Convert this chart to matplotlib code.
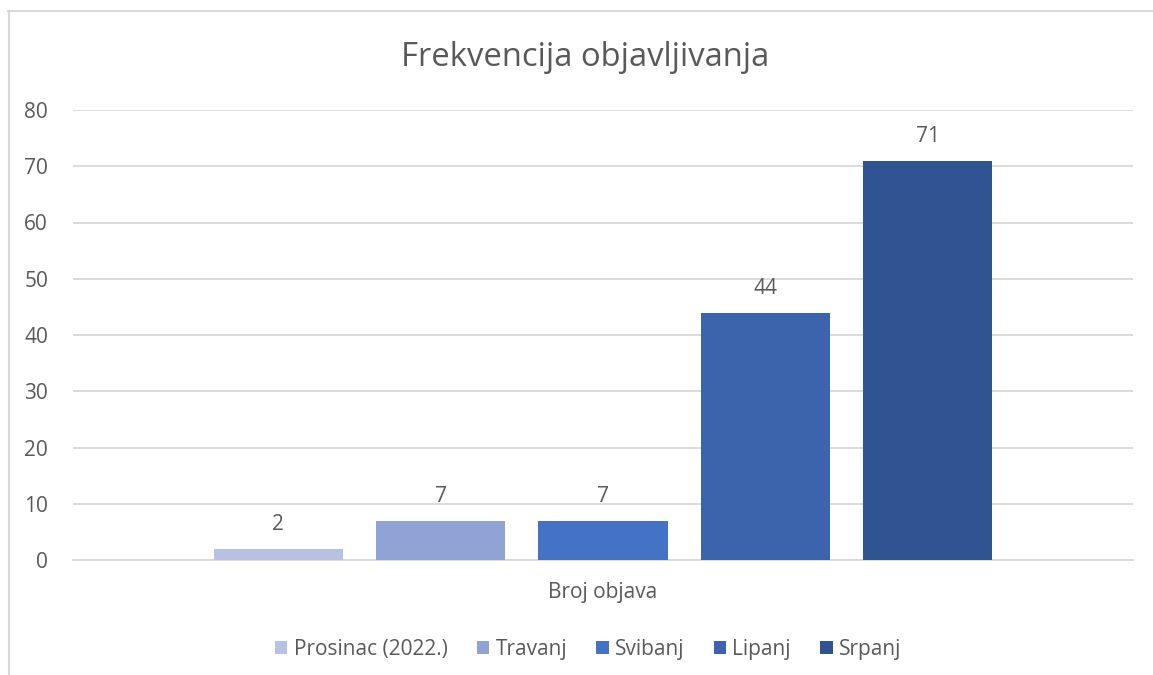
"""
Frekvencija objavljivanja - bar chart recreation.
"""
import matplotlib
matplotlib.use('Agg')
import matplotlib.pyplot as plt
from matplotlib.lines import Line2D

# data
months = ['Prosinac (2022.)', 'Travanj', 'Svibanj', 'Lipanj', 'Srpanj']
counts = [2, 7, 7, 44, 71]
category = 'Broj objava'
yticks = [0, 10, 20, 30, 40, 50, 60, 70, 80]

colors = ['#B7C2E3', '#8FA3D4', '#4472C4', '#3C64AD', '#305492']
txt_color = '#595959'
grid_color = '#D9D9D9'

plt.rcParams['font.family'] = ['Open Sans', 'DejaVu Sans']

W, H = 1153, 675
fig = plt.figure(figsize=(W / 100, H / 100), dpi=100)

# chart area border (cut off at right and bottom)
fig.add_artist(Line2D([8 / W, 1.0], [1 - 11 / H, 1 - 11 / H],
                      color=grid_color, lw=1.5, transform=fig.transFigure))
fig.add_artist(Line2D([8.5 / W, 8.5 / W], [0, 1 - 11 / H],
                      color=grid_color, lw=1.5, transform=fig.transFigure))

ax = fig.add_axes([73 / W, (H - 560) / H, 1060 / W, 450 / H])

step = 0.1533
width = 0.1217
n = len(months)
bars = []
for i, (m, c) in enumerate(zip(months, counts)):
    x = (i - (n - 1) / 2) * step
    b = ax.bar(x, c, width=width, color=colors[i], label=m, zorder=3)
    bars.append(b)
    ax.annotate(str(c), (x, c), xytext=(0, 10), textcoords='offset points',
                ha='center', va='bottom', fontsize=15, color=txt_color)

ax.set_xlim(-0.5, 0.5)
ax.set_ylim(0, 80)
ax.set_yticks(yticks)
ax.set_xticks([0])
ax.set_xticklabels([category])
ax.tick_params(axis='y', length=0, pad=18, labelsize=15, labelcolor=txt_color)
ax.tick_params(axis='x', length=0, pad=16, labelsize=15, labelcolor=txt_color)
ax.grid(axis='y', color=grid_color, lw=1.3, zorder=0)
for s in ['top', 'right', 'left']:
    ax.spines[s].set_visible(False)
ax.spines['bottom'].set_color(grid_color)
ax.spines['bottom'].set_linewidth(1.3)

fig.text(585 / W, 1 - 57 / H, 'Frekvencija objavljivanja', ha='center',
         va='center', fontsize=23.6, color=txt_color)

fig.legend(handles=[b[0] for b in bars], labels=months, ncol=5,
           loc='center', bbox_to_anchor=(588 / W, 1 - 649 / H),
           frameon=False, fontsize=15, labelcolor=txt_color,
           handlelength=0.6, handleheight=0.6, handletextpad=0.3,
           columnspacing=1.4)

fig.savefig('out.png', dpi=100)
